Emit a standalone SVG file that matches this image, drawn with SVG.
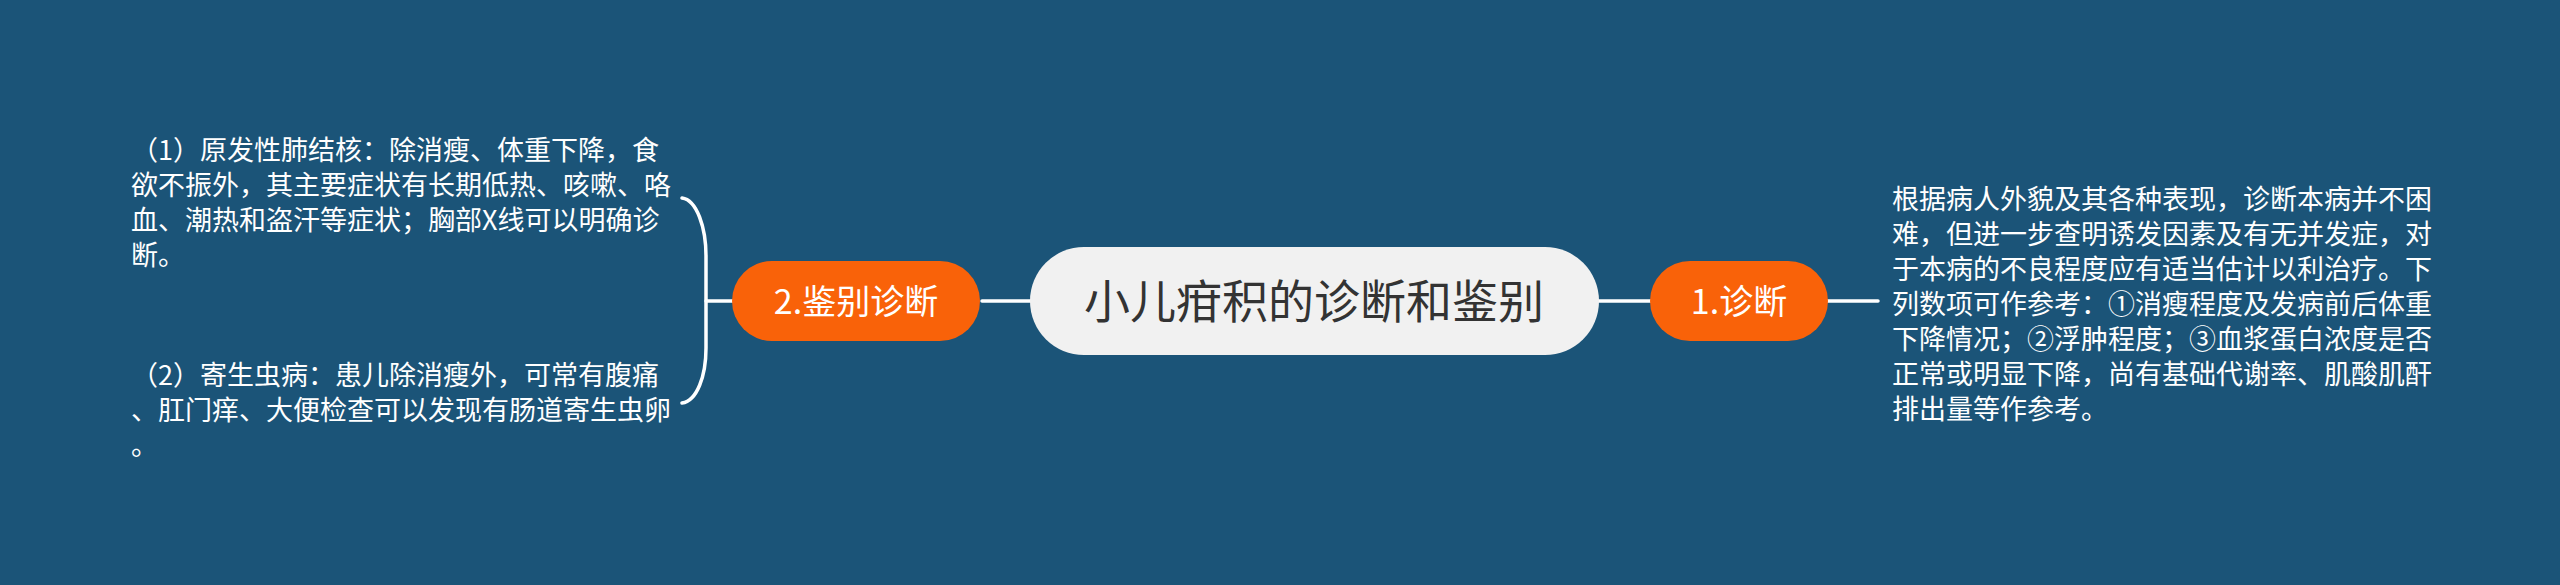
<svg xmlns="http://www.w3.org/2000/svg" width="2560" height="585" viewBox="0 0 2560 585">
<style>
.bg{fill:#1b5478}
.conn{stroke:#ffffff;stroke-width:3.5;fill:none;stroke-linecap:round}
.root{fill:#f1f1f1}
.main{fill:#f96209}
.rootText{font-family:"Noto Sans CJK SC","Noto Sans",sans-serif;font-size:46px;fill:#333333;text-anchor:middle}
.mainText{font-family:"Noto Sans CJK SC","Noto Sans",sans-serif;font-size:34px;fill:#ffffff;text-anchor:middle}
.leaf{font-family:"Noto Sans CJK SC","Noto Sans",sans-serif;font-size:27px;fill:#ffffff}
</style>
<rect class="bg" x="0" y="0" width="2560" height="585"/>
<g id="connectors">
<line class="conn" x1="1598" y1="301" x2="1652" y2="301"/>
<line class="conn" x1="1826" y1="301" x2="1878" y2="301"/>
<line class="conn" x1="982" y1="301" x2="1032" y2="301"/>
<line class="conn" x1="706" y1="301" x2="734" y2="301"/>
<path class="conn" d="M682 198 C697 200 706 228 706 256 L706 348 C706 376 697 401 682 403"/>
</g>
<g id="node-root">
<rect class="root" x="1030" y="247" width="569" height="108" rx="54" ry="54"/>
<text class="rootText" x="1314" y="318">小儿疳积的诊断和鉴别</text>
</g>
<g id="node-1">
<rect class="main" x="1650" y="261" width="178" height="80" rx="40" ry="40"/>
<text class="mainText" x="1739" y="314">1.诊断</text>
</g>
<g id="node-1-1">
<text class="leaf" x="1892" y="209">
<tspan x="1892" y="209">根据病人外貌及其各种表现，诊断本病并不困</tspan>
<tspan x="1892" y="244">难，但进一步查明诱发因素及有无并发症，对</tspan>
<tspan x="1892" y="279">于本病的不良程度应有适当估计以利治疗。下</tspan>
<tspan x="1892" y="314">列数项可作参考：①消瘦程度及发病前后体重</tspan>
<tspan x="1892" y="349">下降情况；②浮肿程度；③血浆蛋白浓度是否</tspan>
<tspan x="1892" y="384">正常或明显下降，尚有基础代谢率、肌酸肌酐</tspan>
<tspan x="1892" y="419">排出量等作参考。</tspan>
</text>
</g>
<g id="node-2">
<rect class="main" x="732" y="261" width="248" height="80" rx="40" ry="40"/>
<text class="mainText" x="856" y="314">2.鉴别诊断</text>
</g>
<g id="node-2-1">
<text class="leaf" x="131" y="160">
<tspan x="131" y="160">（1）原发性肺结核：除消瘦、体重下降，食</tspan>
<tspan x="131" y="195">欲不振外，其主要症状有长期低热、咳嗽、咯</tspan>
<tspan x="131" y="230">血、潮热和盗汗等症状；胸部X线可以明确诊</tspan>
<tspan x="131" y="265">断。</tspan>
</text>
</g>
<g id="node-2-2">
<text class="leaf" x="131" y="385">
<tspan x="131" y="385">（2）寄生虫病：患儿除消瘦外，可常有腹痛</tspan>
<tspan x="131" y="420">、肛门痒、大便检查可以发现有肠道寄生虫卵</tspan>
<tspan x="131" y="455">。</tspan>
</text>
</g>
</svg>
